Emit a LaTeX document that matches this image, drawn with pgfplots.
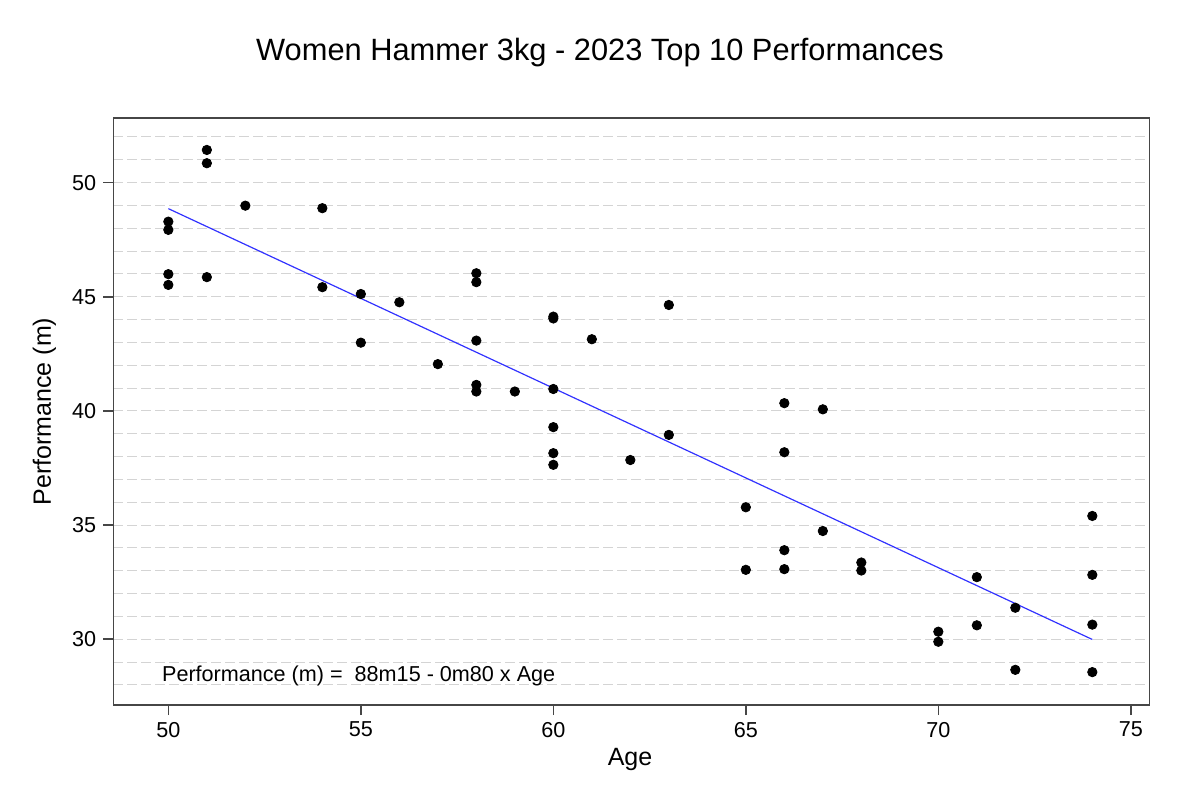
\documentclass[border=0pt]{standalone}
\usepackage{fontspec}
\setmainfont{Liberation Sans}
\usepackage{pgfplots}
\pgfplotsset{compat=1.18}

\definecolor{gridgray}{RGB}{212,212,212}
\definecolor{fitblue}{RGB}{50,50,255}
\definecolor{axisgray}{RGB}{70,70,70}

\begin{document}
\begin{tikzpicture}
  \useasboundingbox (-56.65bp,-47bp) rectangle (543.35bp,352.5bp);
  \begin{axis}[
      at={(0,0)}, anchor=south west,
      scale only axis,
      width=518bp, height=293.5bp,
      xmin=48.57, xmax=75.48,
      ymin=27.12, ymax=52.83,
      xtick={50,55,...,75},
      ytick={30,35,...,50},
      minor ytick={28,29,...,52},
      ymajorgrids, yminorgrids,
      major grid style={gridgray, line width=0.5bp, dash pattern=on 5bp off 2bp},
      minor grid style={gridgray, line width=0.5bp, dash pattern=on 5bp off 2bp},
      minor tick length=0pt,
      tick align=outside,
      major tick length=5bp,
      xtick pos=bottom, ytick pos=left,
      tick style={axisgray, line width=0.8bp},
      axis line style={axisgray, line width=0.8bp},
      ticklabel style={font=\fontsize{10.8bp}{13bp}\selectfont},
      /pgf/number format/assume math mode=true,
    ]
    \addplot[only marks, mark=*, mark size=2.35bp, black] coordinates {
      (50,48.29) (50,47.93) (50,45.99) (50,45.52)
      (51,51.43) (51,50.85) (51,45.86)
      (52,48.99)
      (54,48.88) (54,45.42)
      (55,45.12) (55,42.99)
      (56,44.76)
      (57,42.05)
      (58,46.03) (58,45.64) (58,43.08) (58,41.14) (58,40.85)
      (59,40.85)
      (60,44.13) (60,44.05) (60,40.96) (60,39.29) (60,38.15) (60,37.64)
      (61,43.14)
      (62,37.85)
      (63,44.64) (63,38.95)
      (65,35.78) (65,33.04)
      (66,40.34) (66,38.19) (66,33.90) (66,33.07)
      (67,40.07) (67,34.74)
      (68,33.36) (68,33.01)
      (70,30.33) (70,29.89)
      (71,32.72) (71,30.61)
      (72,31.38) (72,28.66)
      (74,35.40) (74,32.82) (74,30.64) (74,28.56)
    };
    \addplot[fitblue, line width=0.6bp, no marks] coordinates {(50,48.86) (74,29.99)};
  \end{axis}
  % title and axis labels
  \node[anchor=base, font=\fontsize{15.4bp}{18bp}\selectfont] at (243.35bp,322bp)
    {Women Hammer 3kg - 2023 Top 10 Performances};
  \node[anchor=base, font=\fontsize{12.5bp}{15bp}\selectfont] at (258.35bp,-30.35bp) {Age};
  \node[rotate=90, font=\fontsize{12.5bp}{15bp}\selectfont] at (-34.4bp,146.75bp) {Performance (m)};
  \node[anchor=base west, inner sep=0pt, font=\fontsize{10.8bp}{13bp}\selectfont] at (24.2bp,11.65bp)
    {Performance (m) =~ 88m15 - 0m80 x Age};
\end{tikzpicture}
\end{document}
